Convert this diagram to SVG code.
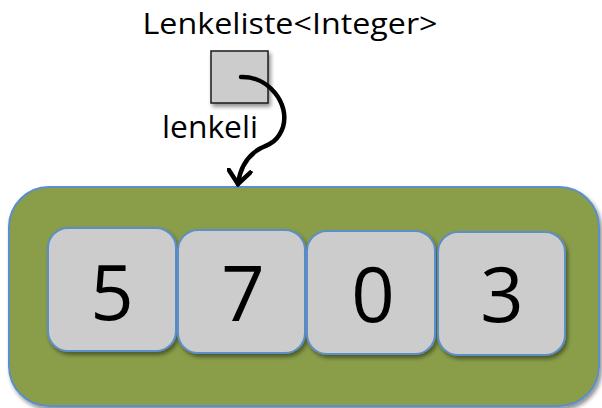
<svg xmlns="http://www.w3.org/2000/svg" width="602" height="408" viewBox="0 0 602 408">
  <defs>
    <filter id="shadow" x="-10%" y="-10%" width="130%" height="130%">
      <feGaussianBlur in="SourceAlpha" stdDeviation="2"/>
      <feOffset dx="2" dy="3" result="b"/>
      <feComponentTransfer><feFuncA type="linear" slope="0.45"/></feComponentTransfer>
      <feMerge><feMergeNode/><feMergeNode in="SourceGraphic"/></feMerge>
    </filter>
    <marker id="head" markerWidth="18" markerHeight="26" viewBox="0 0 18 26" refX="15" refY="13" orient="auto" markerUnits="userSpaceOnUse">
      <path d="M2,2 L15,13 L2,24" fill="none" stroke="#000" stroke-width="4.5" stroke-linejoin="miter" stroke-linecap="round"/>
    </marker>
  </defs>
  <style>
    .list { fill: #8A9E4A; stroke: #5B8FC9; stroke-width: 2; }
    .cell { fill: #CCCCCC; stroke: #5B8FC9; stroke-width: 2; }
    .ref { fill: #CCCCCC; stroke: #1a1a1a; stroke-width: 1.5; }
    .digit { font-family: "Open Sans", "Liberation Sans", sans-serif; font-size: 76px; fill: #000; text-anchor: middle; }
    .label { font-family: "Open Sans", "Liberation Sans", sans-serif; fill: #000; text-anchor: middle; }
    .link { fill: none; stroke: #000; stroke-width: 4.5; stroke-linecap: round; }
  </style>

  <!-- title -->
  <text class="label" x="290" y="34" font-size="30" textLength="295" lengthAdjust="spacingAndGlyphs">Lenkeliste&lt;Integer&gt;</text>

  <!-- reference variable -->
  <g id="ref">
    <rect class="ref" x="211" y="51" width="57" height="52" filter="url(#shadow)"/>
    <text class="label" x="210" y="138" font-size="31" textLength="96" lengthAdjust="spacingAndGlyphs">lenkeli</text>
  </g>

  <!-- list container with its elements -->
  <g id="list">
    <rect class="list" x="9" y="187" width="590" height="219" rx="40" filter="url(#shadow)"/>
  </g>
  <g id="cell5">
    <rect class="cell" x="48" y="228" width="128" height="123" rx="20" filter="url(#shadow)"/>
    <text class="digit" x="112" y="320">5</text>
  </g>
  <g id="cell7">
    <rect class="cell" x="178" y="230" width="127" height="123" rx="20" filter="url(#shadow)"/>
    <text class="digit" x="243" y="321">7</text>
  </g>
  <g id="cell0">
    <rect class="cell" x="307" y="231" width="128" height="123" rx="20" filter="url(#shadow)"/>
    <text class="digit" x="373" y="322">0</text>
  </g>
  <g id="cell3">
    <rect class="cell" x="438" y="232" width="127" height="123" rx="20" filter="url(#shadow)"/>
    <text class="digit" x="502" y="322">3</text>
  </g>

  <!-- connectors -->
  <g id="connectors">
    <path class="link" d="M241,77 C268,76 290,103 283,127 C278,142 268,145 261,148 C248,155 240,168 238,184" marker-end="url(#head)"/>
  </g>
</svg>
